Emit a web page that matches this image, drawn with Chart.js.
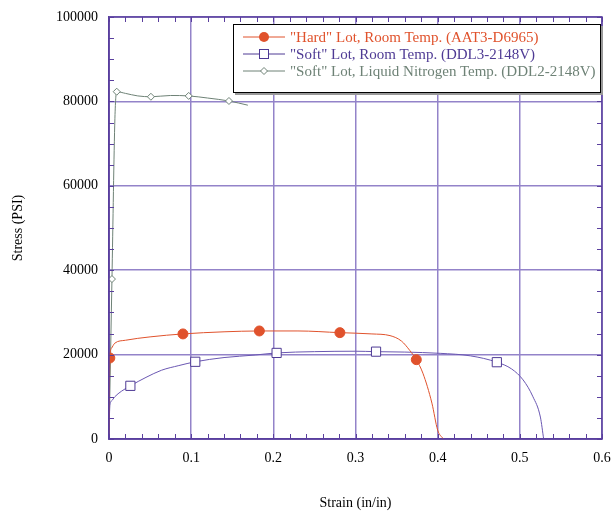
<!DOCTYPE html>
<html>
<head>
<meta charset="utf-8">
<script src="https://cdn.jsdelivr.net/npm/chart.js@4/dist/chart.umd.min.js"></script>
<style>
  body { margin: 0; background: #fff; }
  #wrap { position: relative; width: 615px; height: 513px; }
  #legend {
    position: absolute; left: 233px; top: 24px; width: 366px; height: 67px;
    border: 1px solid #000; background: #fff; box-shadow: 2px 2px 0 #999;
    font: 15px "Liberation Serif", serif;
  }
  .row { position: absolute; left: 0; height: 17px; line-height: 17px; white-space: nowrap; }
  .row svg { position: absolute; left: 9px; top: 2px; }
  .row span { position: absolute; left: 56px; }
</style>
</head>
<body>
<div id="wrap">
  <canvas id="chart" width="615" height="513"></canvas>
  <div id="legend"></div>
</div>
<script>
// "Hard" lot, room temperature
const hardStrain = [0, 0.001, 0.003, 0.007, 0.02, 0.05, 0.09, 0.14, 0.183, 0.23, 0.281, 0.32, 0.342, 0.356, 0.366, 0.374, 0.382, 0.393, 0.400, 0.407];
const hardStress = [0, 19200, 21500, 22700, 23400, 24200, 24900, 25400, 25600, 25600, 25200, 24900, 24500, 23200, 21000, 18800, 15600, 8500, 2100, 0];
const hardMarkStrain = [0.001, 0.09, 0.183, 0.281, 0.374];
const hardMarkStress = [19200, 24900, 25600, 25200, 18800];

// "Soft" lot, room temperature
const softStrain = [0, 0.001, 0.003, 0.007, 0.015, 0.026, 0.045, 0.064, 0.085, 0.105, 0.14, 0.178, 0.204, 0.25, 0.3, 0.325, 0.36, 0.403, 0.44, 0.472, 0.49, 0.504, 0.516, 0.525, 0.529];
const softStress = [0, 8000, 9000, 10000, 11300, 12600, 14600, 16300, 17400, 18300, 19300, 19900, 20400, 20700, 20800, 20700, 20600, 20300, 19700, 18200, 16600, 14000, 10000, 5200, 0];
const softMarkStrain = [0.026, 0.105, 0.204, 0.325, 0.472];
const softMarkStress = [12600, 18300, 20400, 20700, 18200];

// "Soft" lot, liquid nitrogen temperature
const lnStrain = [0, 0.0036, 0.0072, 0.0094, 0.02, 0.035, 0.051, 0.075, 0.097, 0.12, 0.146, 0.169];
const lnStress = [0, 37900, 76000, 82300, 81900, 81300, 81100, 81400, 81300, 80800, 80100, 79100];
const lnMarkStrain = [0.0036, 0.0094, 0.051, 0.097, 0.146];
const lnMarkStress = [37900, 82300, 81100, 81300, 80100];

const xTicks = [0, 0.1, 0.2, 0.3, 0.4, 0.5, 0.6];
const yTicks = [0, 20000, 40000, 60000, 80000, 100000];

const seriesNames = [
  '"Hard" Lot, Room Temp. (AAT3-D6965)',
  '"Soft" Lot, Room Temp. (DDL3-2148V)',
  '"Soft" Lot, Liquid Nitrogen Temp. (DDL2-2148V)'
];

const colors = { hard: "#E0522C", soft: "#6A57B2", softMark: "#4E3A94", ln: "#6E8276" };
const frameColor = "#5A3F9E";
const gridColor = "#9383C9";
const font = "Liberation Serif";

function pts(xs, ys) {
  return xs.map((x, i) => ({ x, y: ys[i] }));
}

function lineSet(label, xs, ys, color) {
  return {
    label, data: pts(xs, ys), showLine: true, borderColor: color, borderWidth: 1,
    pointRadius: 0, cubicInterpolationMode: "monotone", order: 2
  };
}

function markSet(label, xs, ys, color, style, radius, fill) {
  return {
    label, data: pts(xs, ys), showLine: false, pointStyle: style,
    pointRadius: radius, borderColor: color, backgroundColor: fill,
    pointBorderWidth: 1, order: 0
  };
}

// frame on top/right plus inward minor ticks on all sides
const framePlugin = {
  id: "frame",
  afterDraw(chart) {
    const { ctx, chartArea: a, scales } = chart;
    ctx.save();
    ctx.strokeStyle = frameColor;
    ctx.lineWidth = 1.5;
    ctx.strokeRect(a.left, a.top, a.right - a.left, a.bottom - a.top);
    ctx.lineWidth = 1;
    ctx.beginPath();
    for (let i = 0; i <= 30; i++) {
      const px = Math.round(scales.x.getPixelForValue(i * 0.02)) + 0.5;
      ctx.moveTo(px, a.bottom); ctx.lineTo(px, a.bottom - 5);
      ctx.moveTo(px, a.top); ctx.lineTo(px, a.top + 5);
    }
    for (let i = 0; i <= 20; i++) {
      const py = Math.round(scales.y.getPixelForValue(i * 5000)) + 0.5;
      ctx.moveTo(a.left, py); ctx.lineTo(a.left + 5, py);
      ctx.moveTo(a.right, py); ctx.lineTo(a.right - 5, py);
    }
    ctx.stroke();
    ctx.restore();
  }
};

new Chart(document.getElementById("chart"), {
  type: "scatter",
  data: {
    datasets: [
      markSet(seriesNames[0], hardMarkStrain, hardMarkStress, colors.hard, "circle", 5, colors.hard),
      markSet(seriesNames[1], softMarkStrain, softMarkStress, colors.softMark, "rect", 6.5, "#fff"),
      markSet(seriesNames[2], lnMarkStrain, lnMarkStress, colors.ln, "rectRot", 3.5, "#fff"),
      lineSet(seriesNames[0], hardStrain, hardStress, colors.hard),
      lineSet(seriesNames[1], softStrain, softStress, colors.soft),
      lineSet(seriesNames[2], lnStrain, lnStress, colors.ln)
    ]
  },
  options: {
    responsive: false,
    animation: false,
    devicePixelRatio: 1,
    layout: { padding: { top: 17, right: 13, left: 0, bottom: 0 } },
    plugins: { legend: { display: false }, tooltip: { enabled: false } },
    scales: {
      x: {
        type: "linear", min: 0, max: 0.6,
        afterFit(s) { s.height = 74; s.paddingLeft = 0; s.paddingRight = 0; },
        afterBuildTicks(s) { s.ticks = xTicks.map(v => ({ value: v })); },
        ticks: { color: "#000", padding: 11, font: { family: font, size: 14 }, maxRotation: 0,
                 callback: v => String(v) },
        grid: { color: gridColor, lineWidth: 1.5, drawTicks: false },
        border: { color: frameColor, width: 1.5 },
        title: { display: true, text: "Strain (in/in)", color: "#000",
                 font: { family: font, size: 14 }, padding: { top: 0, bottom: 1 } }
      },
      y: {
        type: "linear", min: 0, max: 100000,
        afterFit(s) { s.width = 109; s.paddingTop = 0; s.paddingBottom = 0; },
        afterBuildTicks(s) { s.ticks = yTicks.map(v => ({ value: v })); },
        ticks: { color: "#000", padding: 11, font: { family: font, size: 14 },
                 callback: v => String(v) },
        grid: { color: gridColor, lineWidth: 1.5, drawTicks: false },
        border: { color: frameColor, width: 1.5 },
        title: { display: true, text: "Stress (PSI)", color: "#000",
                 font: { family: font, size: 14 }, padding: { top: 10, bottom: 0 } }
      }
    }
  },
  plugins: [framePlugin]
});

// legend: line with marker, in the series colour
const legendIcons = [
  `<line x1="0" y1="6" x2="42" y2="6" stroke="${colors.hard}"/><circle cx="21" cy="6" r="5" fill="${colors.hard}"/>`,
  `<line x1="0" y1="6" x2="42" y2="6" stroke="${colors.softMark}"/><rect x="16.5" y="1.5" width="9" height="9" fill="#fff" stroke="${colors.softMark}"/>`,
  `<line x1="0" y1="6" x2="42" y2="6" stroke="${colors.ln}"/><path d="M21 2.5 L24.5 6 L21 9.5 L17.5 6 Z" fill="#fff" stroke="${colors.ln}"/>`
];
const textColors = [colors.hard, colors.softMark, colors.ln];
document.getElementById("legend").innerHTML = seriesNames.map((name, i) =>
  `<div class="row" style="top:${4 + i * 17}px;color:${textColors[i]}">` +
  `<svg width="44" height="12">${legendIcons[i]}</svg><span>${name}</span></div>`
).join("");
</script>
</body>
</html>
